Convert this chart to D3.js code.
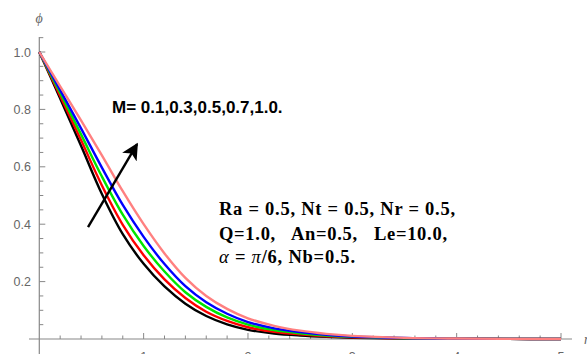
<!DOCTYPE html>
<html>
<head>
<meta charset="utf-8">
<script src="https://cdn.jsdelivr.net/npm/d3@7"></script>
<style>
  body { margin: 0; background: #fff; }
  svg { display: block; }
  .tick-label { font-family: "Liberation Sans", Arial, sans-serif; font-size: 12.5px; fill: #666; }
</style>
</head>
<body>
<svg id="chart" width="587" height="354"></svg>
<script>
// eta grid and phi profiles for M = 0.1, 0.3, 0.5, 0.7, 1.0
const eta = [0, 0.2, 0.4, 0.6, 0.8, 1.0, 1.2, 1.4, 1.6, 1.8, 2.0, 2.25, 2.5, 2.75, 3.0, 3.5, 4.0, 4.5, 5.0];
const phiM01 = [1.0, 0.838, 0.673, 0.505, 0.365, 0.262, 0.183, 0.123, 0.08, 0.051, 0.032, 0.019, 0.012, 0.0075, 0.0045, 0.0018, 0.0007, 0.0003, 0];
const phiM03 = [1.0, 0.847, 0.693, 0.535, 0.398, 0.292, 0.208, 0.143, 0.095, 0.063, 0.041, 0.025, 0.016, 0.0098, 0.006, 0.0023, 0.0009, 0.0003, 0];
const phiM05 = [1.0, 0.857, 0.713, 0.566, 0.433, 0.324, 0.235, 0.163, 0.112, 0.075, 0.05, 0.031, 0.02, 0.0122, 0.0074, 0.0028, 0.0011, 0.0004, 0];
const phiM07 = [1.0, 0.867, 0.734, 0.597, 0.467, 0.356, 0.261, 0.184, 0.128, 0.088, 0.059, 0.037, 0.024, 0.0146, 0.0089, 0.0033, 0.0012, 0.0004, 0];
const phiM10 = [1.0, 0.88, 0.762, 0.64, 0.515, 0.4, 0.298, 0.213, 0.15, 0.105, 0.072, 0.046, 0.029, 0.018, 0.011, 0.004, 0.0015, 0.0005, 0];
const seriesNames = ["M=0.1", "M=0.3", "M=0.5", "M=0.7", "M=1.0"];
const seriesColors = ["#000000", "#ff0000", "#00e600", "#0000ff", "#ff8080"];
const xTickLabels = [1, 2, 3, 4, 5];
const yTickLabels = [0.2, 0.4, 0.6, 0.8, 1.0];

const svg = d3.select("#chart");

// scales
const x = d3.scaleLinear().domain([0, 5]).range([39.3, 561]);
const y = d3.scaleLinear().domain([0, 1]).range([339, 52]);
const axisColor = "#888";

// axes lines (they cross and run a little past the origin)
svg.append("line")
    .attr("x1", 29).attr("x2", 572)
    .attr("y1", y(0)).attr("y2", y(0))
    .attr("stroke", axisColor).attr("stroke-width", 1.2);
svg.append("line")
    .attr("x1", x(0)).attr("x2", x(0))
    .attr("y1", 37).attr("y2", 354)
    .attr("stroke", axisColor).attr("stroke-width", 1.2);

// x ticks, every 0.2, majors every 1
const xTicks = d3.range(1, 26).map((i) => i * 0.2);
svg.append("g").selectAll("line")
    .data(xTicks)
    .enter().append("line")
    .attr("x1", (d) => x(d)).attr("x2", (d) => x(d))
    .attr("y1", y(0))
    .attr("y2", (d) => Math.abs(d - Math.round(d)) < 1e-6 ? y(0) - 6 : y(0) - 3.5)
    .attr("stroke", axisColor).attr("stroke-width", 1);

svg.append("g").selectAll("text")
    .data(xTickLabels)
    .enter().append("text")
    .attr("class", "tick-label")
    .attr("x", (d) => x(d))
    .attr("y", 361)
    .attr("text-anchor", "middle")
    .text((d) => d);

// y ticks, every 0.05, majors every 0.2
const yTicks = d3.range(1, 22).map((i) => i * 0.05);
svg.append("g").selectAll("line")
    .data(yTicks)
    .enter().append("line")
    .attr("x1", x(0))
    .attr("x2", (d) => Math.abs(d * 5 - Math.round(d * 5)) < 1e-6 ? x(0) + 6 : x(0) + 4)
    .attr("y1", (d) => y(d)).attr("y2", (d) => y(d))
    .attr("stroke", axisColor).attr("stroke-width", 1);

svg.append("g").selectAll("text")
    .data(yTickLabels)
    .enter().append("text")
    .attr("class", "tick-label")
    .attr("x", 31)
    .attr("y", (d) => y(d) + 4.5)
    .attr("text-anchor", "end")
    .text((d) => d.toFixed(1));

// axis labels
svg.append("text")
    .attr("x", 39).attr("y", 23)
    .attr("text-anchor", "middle")
    .style("font-family", "'Liberation Serif', serif")
    .style("font-style", "italic")
    .style("font-size", "14px")
    .style("fill", "#666")
    .text("\u03d5");
svg.append("text")
    .attr("x", 584).attr("y", 344)
    .style("font-family", "'Liberation Serif', serif")
    .style("font-style", "italic")
    .style("font-size", "14px")
    .style("fill", "#666")
    .text("\u03b7");

// curves
const allSeries = [phiM01, phiM03, phiM05, phiM07, phiM10];
const line = d3.line()
    .x((d, i) => x(eta[i]))
    .y((d) => y(d))
    .curve(d3.curveCatmullRom.alpha(0.5));

svg.append("g").selectAll("path")
    .data(allSeries)
    .enter().append("path")
    .attr("d", line)
    .attr("fill", "none")
    .attr("stroke", (d, i) => seriesColors[i])
    .attr("stroke-width", 2.4)
    .attr("data-name", (d, i) => seriesNames[i]);

// arrow showing increasing M
svg.append("defs").append("marker")
    .attr("id", "head")
    .attr("viewBox", "0 0 10 10")
    .attr("refX", 9).attr("refY", 5)
    .attr("markerWidth", 7).attr("markerHeight", 7)
    .attr("markerUnits", "strokeWidth")
    .attr("orient", "auto")
    .append("path")
    .attr("d", "M0,0 L10,5 L0,10 L2.5,5 Z")
    .attr("fill", "#000");

svg.append("line")
    .attr("x1", x(0.467)).attr("y1", y(0.39))
    .attr("x2", x(0.937)).attr("y2", y(0.679))
    .attr("stroke", "#000").attr("stroke-width", 2.4)
    .attr("marker-end", "url(#head)");

// annotations
svg.append("text")
    .attr("x", 112).attr("y", 113)
    .style("font-family", "'Liberation Sans', Arial, sans-serif")
    .style("font-weight", "bold")
    .style("font-size", "17px")
    .text("M= 0.1,0.3,0.5,0.7,1.0.");

const params = svg.append("g")
    .style("font-family", "'Liberation Serif', 'Times New Roman', serif")
    .style("font-weight", "bold")
    .style("font-size", "18.5px");

params.append("text")
    .attr("x", 219).attr("y", 215)
    .attr("xml:space", "preserve")
    .attr("textLength", 236).attr("lengthAdjust", "spacing")
    .text("Ra = 0.5, Nt = 0.5, Nr = 0.5,");
params.append("text")
    .attr("x", 219).attr("y", 240)
    .attr("xml:space", "preserve")
    .attr("textLength", 228).attr("lengthAdjust", "spacing")
    .text("Q=1.0,\u00a0\u00a0 An=0.5,\u00a0\u00a0 Le=10.0,");
const l3 = params.append("text")
    .attr("x", 219).attr("y", 263)
    .attr("xml:space", "preserve")
    .attr("textLength", 136).attr("lengthAdjust", "spacing");
l3.append("tspan").style("font-style", "italic").style("font-weight", "normal").text("\u03b1");
l3.append("tspan").text(" = ");
l3.append("tspan").style("font-style", "italic").style("font-weight", "normal").text("\u03c0");
l3.append("tspan").text("/6, Nb=0.5.");
</script>
</body>
</html>
